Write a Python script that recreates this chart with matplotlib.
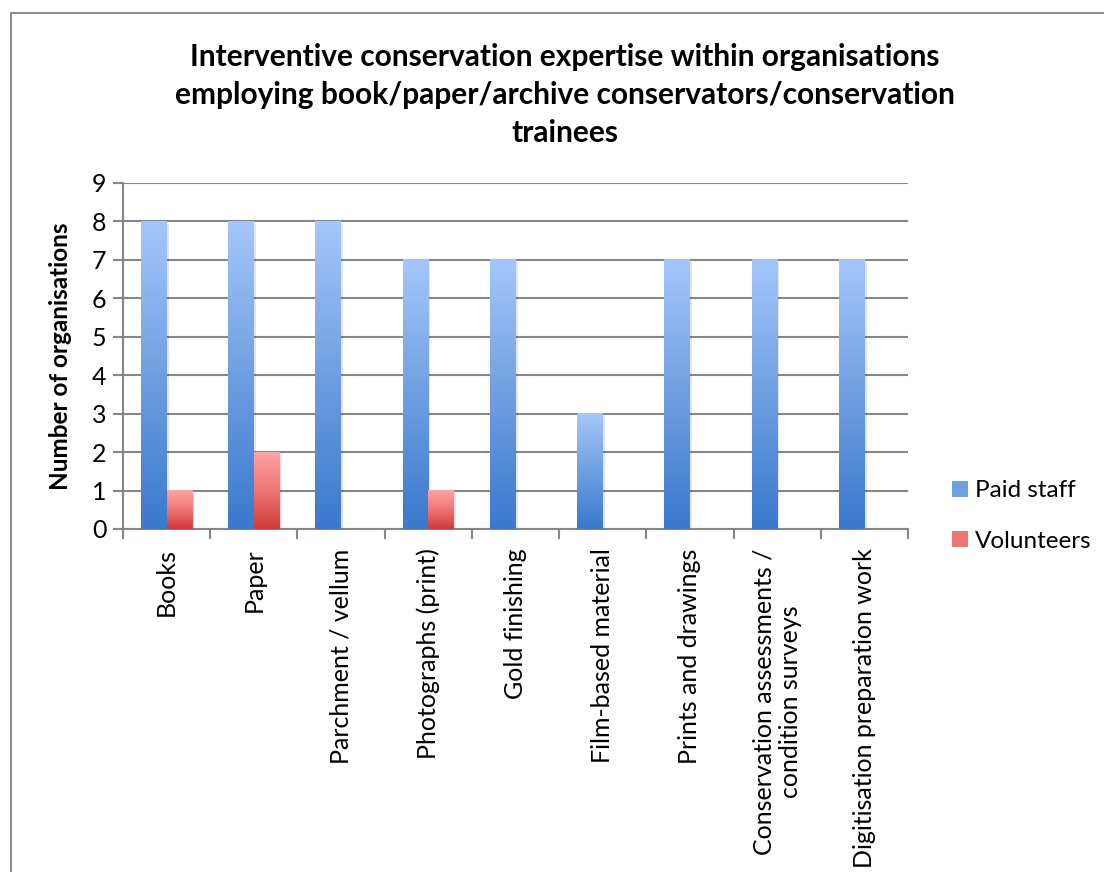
import matplotlib
matplotlib.use("Agg")
import matplotlib.pyplot as plt
import numpy as np
from matplotlib.colors import LinearSegmentedColormap
from matplotlib.patches import Rectangle, Patch

plt.rcParams['font.family'] = ['Lato', 'DejaVu Sans']

categories = ["Books", "Paper", "Parchment / vellum", "Photographs (print)",
              "Gold finishing", "Film-based material", "Prints and drawings",
              "Conservation assessments /\ncondition surveys",
              "Digitisation preparation work"]
paid_staff = [8, 8, 8, 7, 7, 3, 7, 7, 7]
volunteers = [1, 2, 0, 1, 0, 0, 0, 0, 0]
series_names = ["Paid staff", "Volunteers"]
title = ("Interventive conservation expertise within organisations\n"
         "employing book/paper/archive conservators/conservation\ntrainees")

fig = plt.figure(figsize=(11.04, 8.72), dpi=100)
ax = fig.add_axes([123/1104, 1-529/872, (908-123)/1104, (529-183)/872])

# outer frame
fig.patches.append(Rectangle((11/1104, -0.1), 1.2, 1 - 13/872 + 0.1,
                             transform=fig.transFigure, fill=False,
                             edgecolor='#8c8c8c', lw=1.5, zorder=0))

x = np.arange(len(categories))
w = 0.293
blue_cmap = LinearSegmentedColormap.from_list('b', ['#3A79CD', '#6F9FE2', '#A4C7FA'])
red_cmap = LinearSegmentedColormap.from_list('r', ['#CF3A38', '#EE7675', '#FFA3A3'])

grad = np.linspace(0, 1, 256).reshape(-1, 1)

def gradient_bars(bars, cmap):
    for b in bars:
        h = b.get_height()
        if h <= 0:
            continue
        x0, y0 = b.get_x(), b.get_y()
        bw = b.get_width()
        # shadow
        ax.add_patch(Rectangle((x0 + 0.025, y0), bw, h - 0.06, facecolor='#000000',
                               alpha=0.10, edgecolor='none', zorder=2))
        ax.imshow(grad, cmap=cmap, origin='lower', aspect='auto',
                  extent=(x0, x0 + bw, y0, y0 + h), zorder=3, interpolation='bilinear')

b1 = ax.bar(x - w/2, paid_staff, w, color='none', edgecolor='none', label=series_names[0])
b2 = ax.bar(x + w/2, volunteers, w, color='none', edgecolor='none', label=series_names[1])
gradient_bars(b1, blue_cmap)
gradient_bars(b2, red_cmap)

ax.set_xlim(-0.5, len(categories) - 0.5)
ax.set_ylim(0, 9)
ax.set_yticks(range(0, 10))
ax.yaxis.grid(True, color='#868686', lw=1.5)
ax.set_axisbelow(True)
for s in ['top', 'right']:
    ax.spines[s].set_visible(False)
for s in ['left', 'bottom']:
    ax.spines[s].set_color('#868686')
    ax.spines[s].set_linewidth(1.5)

ax.set_xticks(np.arange(-0.5, len(categories), 1.0))
ax.set_xticklabels([])
ax.set_xticks(x, minor=True)
ax.set_xticklabels(categories, minor=True, rotation=90, fontsize=18,
                   va='top', ha='center', multialignment='center', linespacing=1.15)
ax.tick_params(axis='x', which='major', length=7, width=1.5, color='#868686')
ax.tick_params(axis='x', which='minor', length=0, pad=14)
ax.tick_params(axis='y', length=7, width=1.5, color='#868686', labelsize=18, pad=5)

ax.set_ylabel("Number of organisations", fontsize=17.5, fontweight='bold', labelpad=14)

fig.text(0.5 + 0.012, 1 - 95/872, title, ha='center', va='center', fontsize=21.5,
         fontweight='bold', linespacing=1.45)

# legend
handles = [Patch(facecolor='#6F9FE2'), Patch(facecolor='#EE7675')]
leg = fig.legend(handles, series_names, loc='center left',
                 bbox_to_anchor=(930/1104, 1 - 516/872), frameon=False,
                 fontsize=17.5, handlelength=0.65, handleheight=0.65,
                 labelspacing=1.2, handletextpad=0.3)

fig.savefig("out.png", dpi=100)
